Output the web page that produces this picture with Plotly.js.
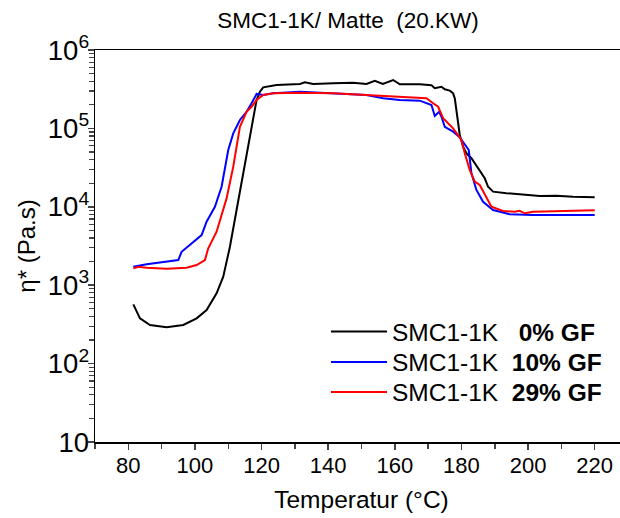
<!DOCTYPE html>
<html>
<head>
<meta charset="utf-8">
<script src="https://cdn.plot.ly/plotly-3.0.1.min.js"></script>
<style>
html,body{margin:0;padding:0;overflow:hidden;background:#fff;width:620px;height:518px;}
#chart{width:640px;height:518px;}
</style>
</head>
<body>
<div id="chart"></div>
<script>
// Temperature (°C) and complex viscosity η* (Pa.s)
const t0 = [81.5,83.5,86.5,91.5,96.5,100.5,103.5,106.5,108.5,110.5,112.5,114.5,116.5,118.5,119.5,120.5,124.5,131.5,133,135.5,141.5,147.5,151.5,154,156.4,159.5,161.5,167.5,171,172,174,175,176.5,177.5,178,178.5,179,179.5,180.5,181.5,183,185,187,188,189.5,193.5,199.5,203.5,208.5,213.5,220];
const v0 = [570,378,311,290,311,378,483,789,1282,3097,9100,26700,86500,230000,294000,334000,358000,368000,387000,368000,376000,383000,368000,405000,368000,414000,365000,365000,355000,325000,340000,315000,303000,280000,242000,172000,116000,82400,58400,48100,41600,31000,23100,18000,15600,14900,14200,13700,13800,13400,13200];

const t10 = [81.5,85.5,95,96,102,103.5,106,108,110,111.5,113.5,115.5,117,118,118.5,120.5,123.5,131.5,141.5,151.5,156.5,161.5,167.5,171,172,173.3,174,175,177.5,179.5,181.5,182.2,183,184.5,186.5,189.5,194.5,201.5,220];
const v10 = [1720,1850,2095,2670,4365,6450,10000,18000,53000,86500,128000,163000,209000,254000,275000,267000,280000,294000,280000,267000,242000,230000,226000,199000,144000,163000,141000,105000,90800,76900,58400,53000,26700,16400,11600,9100,8020,7860,7860];

const t29 = [81.5,83,85.5,91.5,97.5,100.5,103,104,106.5,109.5,111.5,113.5,115.5,117,118.5,120.5,123.5,131.5,141.5,151.5,161.5,169.5,171.5,173,174.5,177.5,180,181,182.5,184,185.5,187.5,189,192.5,196,197.5,199,201.5,211.5,220];
const v29 = [1640,1720,1670,1620,1670,1810,2095,2960,4810,12800,32400,105000,163000,189000,230000,267000,280000,285000,280000,267000,254000,242000,209000,189000,135000,100000,71100,48100,29400,20900,19000,13500,10000,8830,8650,8900,8260,8650,8830,9020];

const seriesNames = ['SMC1-1K\u00a0\u00a0\u00a0<b>0% GF</b>','SMC1-1K\u00a0\u00a0<b>10% GF</b>','SMC1-1K\u00a0\u00a0<b>29% GF</b>'];
const seriesColors = ['#000000','#0000ff','#ff0000'];
const xTickVals = [80,100,120,140,160,180,200,220];

const FONT = 'Liberation Sans, Arial, sans-serif';
const legendKeys = ['legend','legend2','legend3'];

const traces = [
  {x:t0, y:v0, name:seriesNames[0], line:{color:seriesColors[0], width:2}, legend:legendKeys[0]},
  {x:t10, y:v10, name:seriesNames[1], line:{color:seriesColors[1], width:2}, legend:legendKeys[1]},
  {x:t29, y:v29, name:seriesNames[2], line:{color:seriesColors[2], width:2}, legend:legendKeys[2]}
].map(t => Object.assign({type:'scatter', mode:'lines'}, t));

// plot area: x 95..628, y 50..442
function legendAt(lineY){
  return {x:(331-95-5)/533, xanchor:'left', y:(442-lineY)/392, yanchor:'middle',
          bgcolor:'rgba(0,0,0,0)', font:{size:24.5, family:FONT, color:'#000'}, itemwidth:56};
}

const layout = {
  width:640, height:518,
  margin:{l:95, r:12, t:50, b:76},
  paper_bgcolor:'#fff', plot_bgcolor:'#fff',
  font:{family:FONT, color:'#000', size:22},
  showlegend:true,
  title:{text:'SMC1-1K/ Matte  (20.KW)', font:{family:FONT, size:22.5, color:'#000'},
         x:348/640, xref:'container', xanchor:'center', y:1-20/518, yref:'container', yanchor:'middle'},
  xaxis:{
    range:[70,230], tickvals:xTickVals, ticks:'outside', ticklen:6, tickwidth:1.5,
    showline:true, linewidth:1.5, linecolor:'#000', mirror:true, showgrid:false, zeroline:false,
    tickfont:{size:22}, automargin:false, ticklabelstandoff:-3,
    minor:{dtick:10, tick0:70, ticks:'outside', ticklen:5, tickwidth:1.5, showgrid:false},
    title:{text:'Temperatur (°C)', font:{size:24.5}, standoff:14}
  },
  xaxis2:{
    range:[70,230], overlaying:'x', side:'top', anchor:'y', dtick:10, tick0:70, ticks:'outside', ticklen:2,
    tickwidth:1.5, showticklabels:false, showline:false, showgrid:false, zeroline:false
  },
  yaxis:{
    type:'log', range:[1,6], dtick:1, exponentformat:'power', ticks:'outside', ticklen:6, tickwidth:1.5,
    showline:true, linewidth:1.5, linecolor:'#000', mirror:true, showgrid:false, zeroline:false,
    tickfont:{size:22}, automargin:false, ticklabelstandoff:-6,
    minor:{ticks:'outside', ticklen:5, tickwidth:1.2, showgrid:false},
    title:{text:'η* (Pa.s)', font:{size:24}, standoff:5}
  },
  legend:legendAt(331.5),
  legend2:legendAt(362),
  legend3:legendAt(392)
};

Plotly.newPlot('chart', traces, layout, {displayModeBar:false, staticPlot:true});
</script>
</body>
</html>
